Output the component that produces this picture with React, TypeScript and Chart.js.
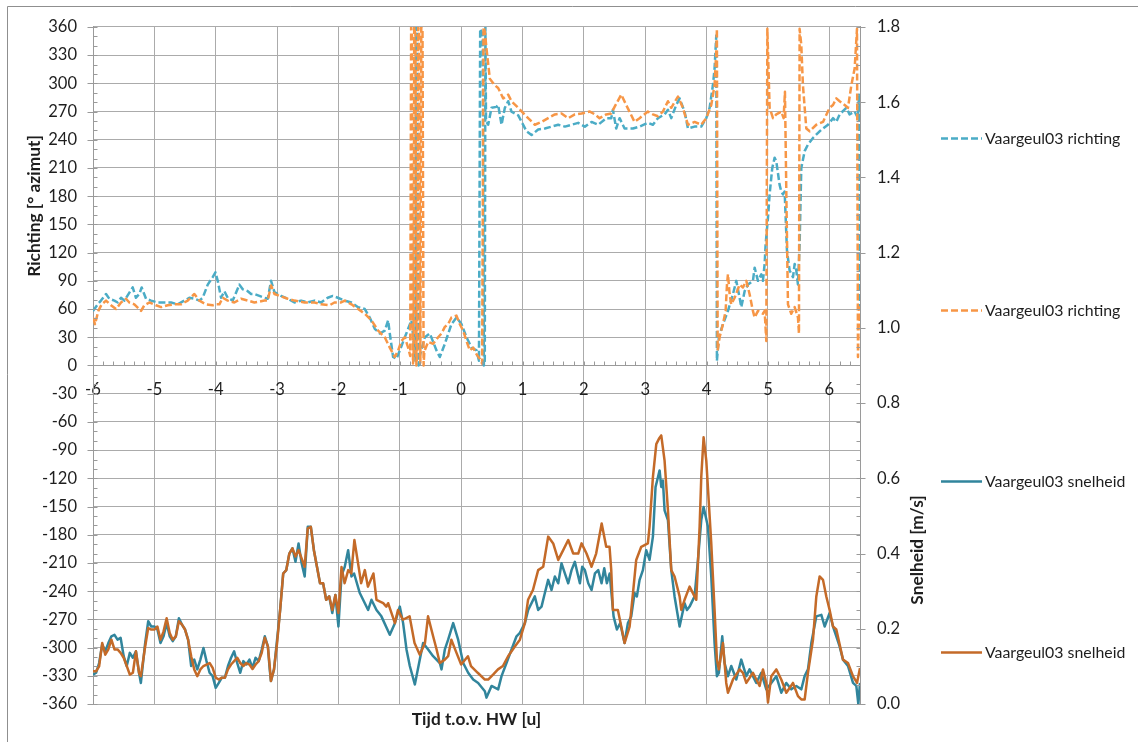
import React, { useEffect, useRef } from 'react';
import { Chart, registerables } from 'chart.js';

Chart.register(...registerables);

// ---------- tick / axis values ----------
const xTicksMin = -6;
const xTicksMax = 6.5;
const richtingMin = -360;
const richtingMax = 360;
const richtingStap = 30;
const snelheidMin = 0;
const snelheidMax = 1.8;
const snelheidStap = 0.2;

const seriesLabels = [
  'Vaargeul03 richting',
  'Vaargeul03 richting',
  'Vaargeul03 snelheid',
  'Vaargeul03 snelheid',
];

// ---------- Vaargeul03 richting (blauw, gestreept) ----------
const richtingBlauwTijd = [
  -6.0, -5.924, -5.87, -5.788, -5.734, -5.652, -5.598, -5.543, -5.489, -5.353,
  -5.30, -5.245, -5.207, -5.136, -5.054, -4.946, -4.837, -4.728, -4.62, -4.51,
  -4.43, -4.348, -4.266, -4.212, -4.13, -4.049, -4.005, -3.967, -3.913, -3.859,
  -3.804, -3.723, -3.614, -3.56, -3.478, -3.424, -3.37, -3.288, -3.207, -3.152,
  -3.098, -3.043, -2.935, -2.826, -2.717, -2.609, -2.50, -2.39, -2.283, -2.174,
  -2.092, -2.01, -1.902, -1.788, -1.68, -1.57, -1.49, -1.408, -1.326, -1.245,
  -1.19, -1.163, -1.109, -1.054, -1.0, -0.918, -0.81, -0.78, -0.745, -0.735,
  -0.715, -0.695, -0.675, -0.592, -0.51, -0.402, -0.348, -0.266, -0.158, -0.076,
  0.005, 0.087, 0.168, 0.25, 0.29, 0.31, 0.35, 0.37, 0.385, 0.395,
  0.405, 0.44, 0.495, 0.576, 0.603, 0.658, 0.712, 0.766, 0.82, 0.93,
  1.065, 1.147, 1.255, 1.364, 1.582, 1.69, 1.908, 2.016, 2.125, 2.234,
  2.364, 2.446, 2.473, 2.527, 2.582, 2.663, 2.80, 2.908, 3.043, 3.125,
  3.207, 3.315, 3.37, 3.424, 3.505, 3.56, 3.641, 3.696, 3.804, 3.913,
  3.995, 4.049, 4.103, 4.13, 4.158, 4.168, 4.2, 4.266, 4.348, 4.43,
  4.484, 4.538, 4.565, 4.62, 4.674, 4.755, 4.783, 4.837, 4.891, 4.918,
  4.946, 4.962, 5.0, 5.027, 5.07, 5.109, 5.136, 5.19, 5.217, 5.245,
  5.272, 5.31, 5.353, 5.408, 5.435, 5.462, 5.489, 5.516, 5.543, 5.598,
  5.652, 5.734, 5.842, 5.897, 5.978, 6.06, 6.114, 6.168, 6.277, 6.33,
  6.413, 6.467, 6.484, 6.5,
];
const richtingBlauw = [
  58, 65, 69, 76, 71, 69, 67, 72, 69, 83,
  72, 76, 83, 71, 69, 67, 67, 67, 65, 69,
  72, 71, 69, 72, 86, 94, 99, 90, 72, 79,
  72, 69, 86, 81, 79, 76, 76, 74, 72, 71,
  90, 78, 74, 71, 67, 69, 67, 69, 67, 72,
  74, 72, 69, 67, 62, 60, 51, 39, 34, 37,
  48, 34, 9, 7, 16, 30, 48, 30, 5, 360,
  355, 0, 10, 30, 34, 16, 9, 23, 44, 51,
  44, 30, 19, 16, 5, 358, 352, 0, 5, 360,
  260, 256, 274, 275, 277, 256, 274, 281, 270, 266,
  249, 245, 251, 252, 256, 254, 258, 254, 259, 256,
  263, 263, 272, 252, 263, 252, 252, 254, 258, 256,
  263, 267, 272, 263, 277, 284, 270, 252, 254, 254,
  263, 274, 298, 316, 351, 5, 30, 44, 58, 76,
  90, 72, 62, 79, 86, 90, 104, 90, 97, 90,
  108, 129, 157, 182, 210, 221, 217, 192, 185, 182,
  185, 122, 101, 94, 108, 101, 86, 129, 210, 228,
  235, 242, 249, 252, 256, 263, 259, 267, 274, 267,
  270, 263, 288, 62,
];

// ---------- Vaargeul03 richting (oranje, gestreept) ----------
const richtingOranjeTijd = [
  -6.0, -5.967, -5.913, -5.859, -5.788, -5.707, -5.625, -5.543, -5.462, -5.408,
  -5.326, -5.217, -5.163, -5.082, -4.973, -4.891, -4.783, -4.674, -4.565, -4.457,
  -4.348, -4.266, -4.158, -4.049, -3.995, -3.94, -3.886, -3.804, -3.696, -3.587,
  -3.478, -3.37, -3.207, -3.152, -3.098, -3.043, -2.962, -2.826, -2.717, -2.554,
  -2.39, -2.283, -2.147, -2.065, -1.957, -1.897, -1.788, -1.68, -1.57, -1.462,
  -1.353, -1.245, -1.163, -1.082, -1.027, -0.973, -0.918, -0.864, -0.83, -0.815,
  -0.80, -0.785, -0.775, -0.765, -0.745, -0.73, -0.715, -0.70, -0.685, -0.665,
  -0.65, -0.63, -0.612, -0.60, -0.538, -0.457, -0.375, -0.32, -0.266, -0.212,
  -0.158, -0.076, -0.022, 0.033, 0.087, 0.141, 0.196, 0.25, 0.304, 0.342,
  0.364, 0.386, 0.413, 0.467, 0.549, 0.603, 0.685, 0.766, 0.82, 0.93,
  1.092, 1.201, 1.31, 1.418, 1.527, 1.636, 1.745, 1.853, 1.962, 2.098,
  2.18, 2.255, 2.364, 2.446, 2.5, 2.609, 2.69, 2.826, 2.908, 3.043,
  3.125, 3.207, 3.288, 3.37, 3.424, 3.533, 3.614, 3.696, 3.804, 3.913,
  3.995, 4.076, 4.13, 4.158, 4.168, 4.18, 4.212, 4.266, 4.31, 4.332,
  4.348, 4.375, 4.402, 4.457, 4.538, 4.592, 4.647, 4.70, 4.755, 4.783,
  4.837, 4.918, 4.946, 4.973, 4.99, 5.027, 5.082, 5.136, 5.217, 5.255,
  5.277, 5.299, 5.326, 5.38, 5.435, 5.489, 5.505, 5.516, 5.543, 5.57,
  5.625, 5.68, 5.788, 5.897, 6.005, 6.06, 6.114, 6.168, 6.25, 6.304,
  6.359, 6.413, 6.451, 6.467, 6.484, 6.5,
];
const richtingOranje = [
  51, 44, 58, 65, 69, 64, 60, 67, 71, 67,
  65, 58, 64, 67, 64, 62, 64, 65, 65, 69,
  76, 69, 65, 64, 65, 65, 72, 69, 67, 71,
  69, 67, 69, 69, 85, 76, 74, 71, 69, 67,
  67, 65, 64, 67, 67, 69, 65, 60, 55, 48,
  37, 30, 19, 9, 16, 26, 30, 19, 10, 360,
  350, 2, 8, 360, 352, 0, 12, 360, 355, 3,
  360, 356, 0, 15, 25, 23, 30, 34, 41, 44,
  51, 53, 44, 37, 26, 16, 19, 12, 7, 2,
  360, 355, 337, 305, 298, 295, 284, 288, 281, 274,
  263, 256, 259, 263, 267, 268, 263, 267, 268, 270,
  267, 263, 267, 268, 275, 288, 277, 259, 263, 270,
  267, 265, 270, 281, 274, 286, 274, 256, 259, 256,
  263, 277, 298, 334, 358, 16, 30, 44, 58, 86,
  97, 76, 65, 72, 86, 83, 90, 76, 58, 51,
  58, 55, 58, 26, 358, 274, 263, 267, 270, 263,
  291, 185, 65, 55, 62, 51, 34, 358, 341, 298,
  252, 249, 256, 259, 274, 277, 284, 281, 277, 274,
  298, 316, 358, 9, 62, 41,
];

// ---------- Vaargeul03 snelheid (blauwgroen) ----------
const snelheidBlauwTijd = [
  -6.0, -5.95, -5.9, -5.85, -5.8, -5.75, -5.7, -5.65, -5.6, -5.55,
  -5.5, -5.45, -5.4, -5.35, -5.3, -5.25, -5.22, -5.15, -5.1, -5.05,
  -5.0, -4.95, -4.9, -4.85, -4.8, -4.75, -4.7, -4.65, -4.6, -4.55,
  -4.5, -4.45, -4.4, -4.35, -4.3, -4.25, -4.2, -4.15, -4.1, -4.05,
  -4.0, -3.95, -3.9, -3.85, -3.8, -3.75, -3.7, -3.65, -3.6, -3.55,
  -3.5, -3.45, -3.4, -3.35, -3.3, -3.25, -3.2, -3.15, -3.12, -3.1,
  -3.05, -3.0, -2.95, -2.9, -2.85, -2.8, -2.75, -2.7, -2.65, -2.6,
  -2.55, -2.5, -2.45, -2.4, -2.35, -2.3, -2.25, -2.2, -2.15, -2.1,
  -2.05, -2.0, -1.95, -1.897, -1.842, -1.788, -1.745, -1.652, -1.516, -1.462,
  -1.38, -1.30, -1.163, -1.08, -1.0, -0.946, -0.891, -0.837, -0.755, -0.674,
  -0.62, -0.538, -0.457, -0.348, -0.32, -0.266, -0.212, -0.13, -0.049, 0.033,
  0.114, 0.196, 0.277, 0.386, 0.413, 0.495, 0.603, 0.658, 0.739, 0.821,
  0.902, 0.957, 1.038, 1.092, 1.201, 1.255, 1.31, 1.364, 1.418, 1.473,
  1.527, 1.582, 1.636, 1.69, 1.745, 1.799, 1.853, 1.897, 1.935, 1.973,
  2.016, 2.071, 2.125, 2.18, 2.234, 2.288, 2.332, 2.375, 2.42, 2.484,
  2.538, 2.592, 2.663, 2.717, 2.772, 2.826, 2.864, 2.908, 2.962, 3.016,
  3.07, 3.125, 3.168, 3.207, 3.234, 3.261, 3.288, 3.315, 3.37, 3.424,
  3.478, 3.56, 3.641, 3.68, 3.723, 3.804, 3.859, 3.913, 3.951, 4.022,
  4.076, 4.13, 4.168, 4.2, 4.255, 4.293, 4.348, 4.402, 4.484, 4.565,
  4.647, 4.70, 4.755, 4.81, 4.891, 4.973, 5.054, 5.136, 5.217, 5.299,
  5.38, 5.462, 5.543, 5.598, 5.652, 5.707, 5.788, 5.87, 5.924, 6.005,
  6.06, 6.114, 6.168, 6.223, 6.304, 6.386, 6.44, 6.473, 6.5,
];
const snelheidBlauw = [
  0.078, 0.083, 0.109, 0.158, 0.140, 0.162, 0.180, 0.184, 0.171, 0.176,
  0.127, 0.101, 0.136, 0.123, 0.140, 0.083, 0.056, 0.162, 0.220, 0.206,
  0.206, 0.198, 0.162, 0.180, 0.215, 0.180, 0.167, 0.180, 0.228, 0.211,
  0.198, 0.171, 0.101, 0.118, 0.092, 0.118, 0.149, 0.114, 0.083, 0.074,
  0.043, 0.056, 0.070, 0.070, 0.101, 0.123, 0.140, 0.109, 0.083, 0.114,
  0.105, 0.118, 0.096, 0.123, 0.114, 0.145, 0.180, 0.153, 0.092, 0.061,
  0.092, 0.171, 0.250, 0.347, 0.356, 0.400, 0.414, 0.378, 0.427, 0.374,
  0.339, 0.471, 0.471, 0.409, 0.365, 0.321, 0.321, 0.277, 0.286, 0.242,
  0.290, 0.206, 0.342, 0.365, 0.409, 0.339, 0.347, 0.295, 0.250, 0.277,
  0.250, 0.233, 0.184, 0.215, 0.259, 0.215, 0.145, 0.101, 0.052, 0.118,
  0.162, 0.145, 0.127, 0.109, 0.092, 0.145, 0.171, 0.215, 0.171, 0.109,
  0.083, 0.065, 0.056, 0.034, 0.017, 0.048, 0.039, 0.074, 0.109, 0.145,
  0.180, 0.189, 0.215, 0.250, 0.286, 0.250, 0.259, 0.295, 0.330, 0.303,
  0.339, 0.321, 0.374, 0.347, 0.321, 0.356, 0.378, 0.347, 0.321, 0.365,
  0.356, 0.321, 0.303, 0.347, 0.356, 0.321, 0.361, 0.321, 0.347, 0.233,
  0.198, 0.215, 0.162, 0.215, 0.233, 0.295, 0.286, 0.330, 0.356, 0.409,
  0.383, 0.445, 0.577, 0.603, 0.621, 0.577, 0.594, 0.515, 0.489, 0.356,
  0.286, 0.206, 0.268, 0.250, 0.259, 0.286, 0.383, 0.489, 0.524, 0.471,
  0.339, 0.162, 0.074, 0.083, 0.180, 0.109, 0.074, 0.101, 0.065, 0.118,
  0.074, 0.092, 0.074, 0.056, 0.083, 0.039, 0.056, 0.074, 0.030, 0.056,
  0.039, 0.048, 0.039, 0.074, 0.092, 0.162, 0.233, 0.237, 0.206, 0.242,
  0.206, 0.180, 0.153, 0.118, 0.101, 0.056, 0.048, 0.0, 0.056,
];

// ---------- Vaargeul03 snelheid (donkeroranje) ----------
const snelheidOranjeTijd = [
  -6.0, -5.95, -5.9, -5.85, -5.8, -5.75, -5.7, -5.65, -5.6, -5.55,
  -5.5, -5.45, -5.4, -5.35, -5.3, -5.25, -5.22, -5.15, -5.1, -5.05,
  -5.0, -4.95, -4.9, -4.85, -4.8, -4.75, -4.7, -4.65, -4.6, -4.55,
  -4.5, -4.45, -4.4, -4.35, -4.3, -4.25, -4.2, -4.15, -4.1, -4.05,
  -4.0, -3.95, -3.9, -3.85, -3.8, -3.75, -3.7, -3.65, -3.6, -3.55,
  -3.5, -3.45, -3.4, -3.35, -3.3, -3.25, -3.2, -3.15, -3.12, -3.1,
  -3.05, -3.0, -2.95, -2.9, -2.85, -2.8, -2.75, -2.7, -2.65, -2.6,
  -2.55, -2.5, -2.45, -2.4, -2.35, -2.3, -2.25, -2.2, -2.15, -2.1,
  -2.05, -2.0, -1.95, -1.9, -1.84, -1.79, -1.74, -1.68, -1.63, -1.57,
  -1.52, -1.43, -1.38, -1.33, -1.27, -1.22, -1.19, -1.08, -1.03, -0.95,
  -0.84, -0.76, -0.674, -0.59, -0.54, -0.457, -0.40, -0.348, -0.266, -0.212,
  -0.16, -0.076, 0.0, 0.11, 0.16, 0.27, 0.386, 0.44, 0.52, 0.60,
  0.68, 0.765, 0.875, 0.957, 1.038, 1.09, 1.17, 1.255, 1.337, 1.418,
  1.50, 1.582, 1.663, 1.745, 1.826, 1.908, 1.962, 2.043, 2.125, 2.2,
  2.29, 2.364, 2.418, 2.446, 2.473, 2.554, 2.609, 2.663, 2.745, 2.80,
  2.853, 2.935, 3.043, 3.07, 3.125, 3.18, 3.223, 3.261, 3.315, 3.37,
  3.424, 3.478, 3.56, 3.587, 3.641, 3.723, 3.832, 3.886, 3.913, 3.951,
  3.995, 4.076, 4.13, 4.168, 4.20, 4.266, 4.32, 4.348, 4.43, 4.538,
  4.592, 4.647, 4.755, 4.864, 4.918, 4.973, 5.0, 5.054, 5.136, 5.217,
  5.299, 5.408, 5.489, 5.543, 5.598, 5.652, 5.734, 5.788, 5.842, 5.897,
  5.951, 6.005, 6.06, 6.114, 6.223, 6.304, 6.386, 6.451, 6.5,
];
const snelheidOranje = [
  0.087, 0.087, 0.100, 0.162, 0.131, 0.145, 0.171, 0.145, 0.145, 0.136,
  0.123, 0.101, 0.078, 0.083, 0.140, 0.083, 0.074, 0.153, 0.202, 0.198,
  0.198, 0.206, 0.171, 0.193, 0.228, 0.189, 0.171, 0.180, 0.220, 0.211,
  0.198, 0.171, 0.127, 0.092, 0.074, 0.092, 0.101, 0.105, 0.109, 0.096,
  0.070, 0.065, 0.070, 0.070, 0.092, 0.105, 0.114, 0.123, 0.109, 0.101,
  0.109, 0.105, 0.093, 0.105, 0.114, 0.136, 0.176, 0.153, 0.101, 0.061,
  0.092, 0.162, 0.250, 0.347, 0.356, 0.400, 0.414, 0.392, 0.409, 0.387,
  0.365, 0.467, 0.471, 0.409, 0.365, 0.321, 0.321, 0.277, 0.286, 0.250,
  0.290, 0.242, 0.364, 0.321, 0.356, 0.347, 0.436, 0.374, 0.321, 0.356,
  0.312, 0.347, 0.277, 0.273, 0.268, 0.259, 0.268, 0.215, 0.250, 0.224,
  0.233, 0.162, 0.131, 0.162, 0.233, 0.180, 0.145, 0.109, 0.118, 0.127,
  0.171, 0.136, 0.105, 0.127, 0.101, 0.083, 0.065, 0.065, 0.078, 0.092,
  0.101, 0.127, 0.153, 0.171, 0.215, 0.277, 0.303, 0.356, 0.365, 0.445,
  0.427, 0.383, 0.409, 0.436, 0.400, 0.400, 0.427, 0.400, 0.365, 0.400,
  0.480, 0.418, 0.418, 0.356, 0.250, 0.250, 0.206, 0.162, 0.206, 0.295,
  0.383, 0.418, 0.427, 0.471, 0.603, 0.691, 0.705, 0.714, 0.647, 0.515,
  0.356, 0.339, 0.286, 0.250, 0.277, 0.312, 0.277, 0.471, 0.603, 0.709,
  0.647, 0.427, 0.250, 0.118, 0.092, 0.162, 0.056, 0.030, 0.065, 0.092,
  0.083, 0.056, 0.083, 0.048, 0.092, 0.056, 0.004, 0.074, 0.092, 0.065,
  0.030, 0.056, 0.021, 0.012, 0.012, 0.083, 0.171, 0.286, 0.339, 0.330,
  0.286, 0.250, 0.206, 0.198, 0.118, 0.109, 0.074, 0.056, 0.096,
];

// ---------- styling ----------
const FONT = 'Lato, "Open Sans", "DejaVu Sans", sans-serif';
const GRID = '#ababab';
const AXIS = '#9a9a9a';
const TEXT = '#1e1e1e';
const colors = ['#4BACC6', '#F79646', '#31859C', '#C46A28'];

function zip(xs: number[], ys: number[]) {
  const n = Math.min(xs.length, ys.length);
  const out: { x: number; y: number }[] = [];
  for (let i = 0; i < n; i++) out.push({ x: xs[i], y: ys[i] });
  return out;
}

function fitSize(text: string, target: number, weight: string) {
  const c = document.createElement('canvas').getContext('2d')!;
  c.font = `${weight} 100px ${FONT}`;
  const w = c.measureText(text).width;
  return (100 * target) / w;
}

export default function App() {
  const ref = useRef<HTMLCanvasElement>(null);

  useEffect(() => {
    const canvas = ref.current!;
    const tickSize = fitSize('-360', 35, 'normal');
    const legendSize = fitSize('Vaargeul03 richting', 135.5, 'normal');
    const titleSize = fitSize('Tijd t.o.v. HW [u]', 129.5, 'bold');

    const decor = {
      id: 'decor',
      afterDraw(chart: any) {
        const ctx = chart.ctx as CanvasRenderingContext2D;
        const { left, right } = chart.chartArea;
        const ys = chart.scales.y;
        const y1 = chart.scales.y1;
        const xs = chart.scales.x;
        ctx.save();
        // outer frame of the chart object
        ctx.strokeStyle = '#8f8f8f';
        ctx.lineWidth = 1;
        ctx.beginPath();
        ctx.moveTo(7.5, 742);
        ctx.lineTo(7.5, 6.5);
        ctx.lineTo(1138, 6.5);
        ctx.stroke();

        // tick marks
        ctx.strokeStyle = AXIS;
        ctx.beginPath();
        const lx = Math.round(left) + 0.5;
        for (let v = richtingMin; v <= richtingMax; v += 10) {
          const py = Math.round(ys.getPixelForValue(v)) + 0.5;
          const major = v % richtingStap === 0;
          ctx.moveTo(lx - (major ? 6 : 0), py);
          ctx.lineTo(lx + 4, py);
        }
        const rx = Math.round(right) + 0.5;
        for (let k = 0; k <= 36; k++) {
          const v = k * 0.05;
          const py = Math.round(y1.getPixelForValue(v)) + 0.5;
          const major = k % 4 === 0;
          ctx.moveTo(rx - 4, py);
          ctx.lineTo(rx + (major ? 5 : 0), py);
        }
        const y0 = Math.round(ys.getPixelForValue(0)) + 0.5;
        for (let k = 0; k <= 75; k++) {
          const v = xTicksMin + k / 6;
          if (v > xTicksMax + 1e-9) break;
          const px = Math.round(xs.getPixelForValue(v)) + 0.5;
          ctx.moveTo(px, y0 - 4);
          ctx.lineTo(px, y0);
        }
        ctx.stroke();

        // axis titles
        ctx.fillStyle = TEXT;
        ctx.font = `bold ${titleSize}px ${FONT}`;
        ctx.textAlign = 'center';
        ctx.textBaseline = 'middle';
        ctx.fillText('Tijd t.o.v. HW [u]', (left + right) / 2, 719);
        ctx.save();
        ctx.translate(34, 206);
        ctx.rotate(-Math.PI / 2);
        ctx.fillText('Richting [° azimut]', 0, 0);
        ctx.restore();
        ctx.save();
        ctx.translate(917, 550);
        ctx.rotate(-Math.PI / 2);
        ctx.fillText('Snelheid [m/s]', 0, 0);
        ctx.restore();

        // legend
        const legendY = [138, 310, 481, 652];
        chart.data.datasets.forEach((ds: any, i: number) => {
          const ly = Math.round(legendY[i]) + 0.5;
          ctx.strokeStyle = ds.borderColor;
          ctx.lineWidth = ds.borderWidth;
          ctx.setLineDash(ds.borderDash || []);
          ctx.beginPath();
          ctx.moveTo(941, ly);
          ctx.lineTo(982, ly);
          ctx.stroke();
          ctx.setLineDash([]);
          ctx.fillStyle = TEXT;
          ctx.font = `${legendSize}px ${FONT}`;
          ctx.textAlign = 'left';
          ctx.textBaseline = 'middle';
          ctx.fillText(ds.label, 985, ly);
        });
        ctx.restore();
      },
    };

    const chart = new Chart(canvas, {
      type: 'line',
      data: {
        datasets: [
          {
            label: seriesLabels[0],
            data: zip(richtingBlauwTijd, richtingBlauw),
            yAxisID: 'y',
            borderColor: colors[0],
            borderWidth: 2.5,
            borderDash: [7, 3],
            borderJoinStyle: 'round',
            pointRadius: 0,
            tension: 0,
            order: 4,
          },
          {
            label: seriesLabels[1],
            data: zip(richtingOranjeTijd, richtingOranje),
            yAxisID: 'y',
            borderColor: colors[1],
            borderWidth: 2.5,
            borderDash: [7, 3],
            borderJoinStyle: 'round',
            pointRadius: 0,
            tension: 0,
            order: 3,
          },
          {
            label: seriesLabels[2],
            data: zip(snelheidBlauwTijd, snelheidBlauw),
            yAxisID: 'y1',
            borderColor: colors[2],
            borderWidth: 2.5,
            borderJoinStyle: 'round',
            pointRadius: 0,
            tension: 0,
            order: 2,
          },
          {
            label: seriesLabels[3],
            data: zip(snelheidOranjeTijd, snelheidOranje),
            yAxisID: 'y1',
            borderColor: colors[3],
            borderWidth: 2.5,
            borderJoinStyle: 'round',
            pointRadius: 0,
            tension: 0,
            order: 1,
          },
        ] as any,
      },
      options: {
        responsive: false,
        animation: false,
        devicePixelRatio: 1,
        layout: { padding: { top: 23, bottom: 38, left: 0, right: 0 } },
        plugins: {
          legend: { display: false },
          tooltip: { enabled: false },
          title: { display: false },
        },
        scales: {
          x: {
            type: 'linear',
            position: { y: 0 } as any,
            min: xTicksMin,
            max: xTicksMax,
            ticks: {
              stepSize: 1,
              includeBounds: false,
              autoSkip: false,
              maxRotation: 0,
              padding: 14,
              color: TEXT,
              font: { family: FONT, size: tickSize },
              callback: (v: any) => String(v),
            },
            grid: { color: GRID, lineWidth: 1, drawTicks: false },
            border: { display: true, color: AXIS },
          },
          y: {
            type: 'linear',
            position: 'left',
            min: richtingMin,
            max: richtingMax,
            ticks: {
              stepSize: richtingStap,
              autoSkip: false,
              padding: 16,
              color: TEXT,
              font: { family: FONT, size: tickSize },
            },
            grid: { color: GRID, lineWidth: 1, drawTicks: false },
            border: { display: true, color: AXIS },
            afterFit: (s: any) => {
              s.width = 93;
            },
          },
          y1: {
            type: 'linear',
            position: 'right',
            min: snelheidMin,
            max: snelheidMax,
            ticks: {
              stepSize: snelheidStap,
              autoSkip: false,
              padding: 17,
              color: TEXT,
              font: { family: FONT, size: tickSize },
              callback: (v: any) => Number(v).toFixed(1),
            },
            grid: { display: false, drawTicks: false },
            border: { display: true, color: AXIS },
            afterFit: (s: any) => {
              s.width = 278;
            },
          },
        },
      } as any,
      plugins: [decor],
    });
    return () => chart.destroy();
  }, []);

  return (
    <div
      style={{
        position: 'fixed',
        left: 0,
        top: 0,
        width: 1138,
        height: 742,
        background: '#ffffff',
        overflow: 'hidden',
      }}
    >
      <canvas ref={ref} width={1138} height={742} style={{ display: 'block', width: 1138, height: 742 }} />
    </div>
  );
}
